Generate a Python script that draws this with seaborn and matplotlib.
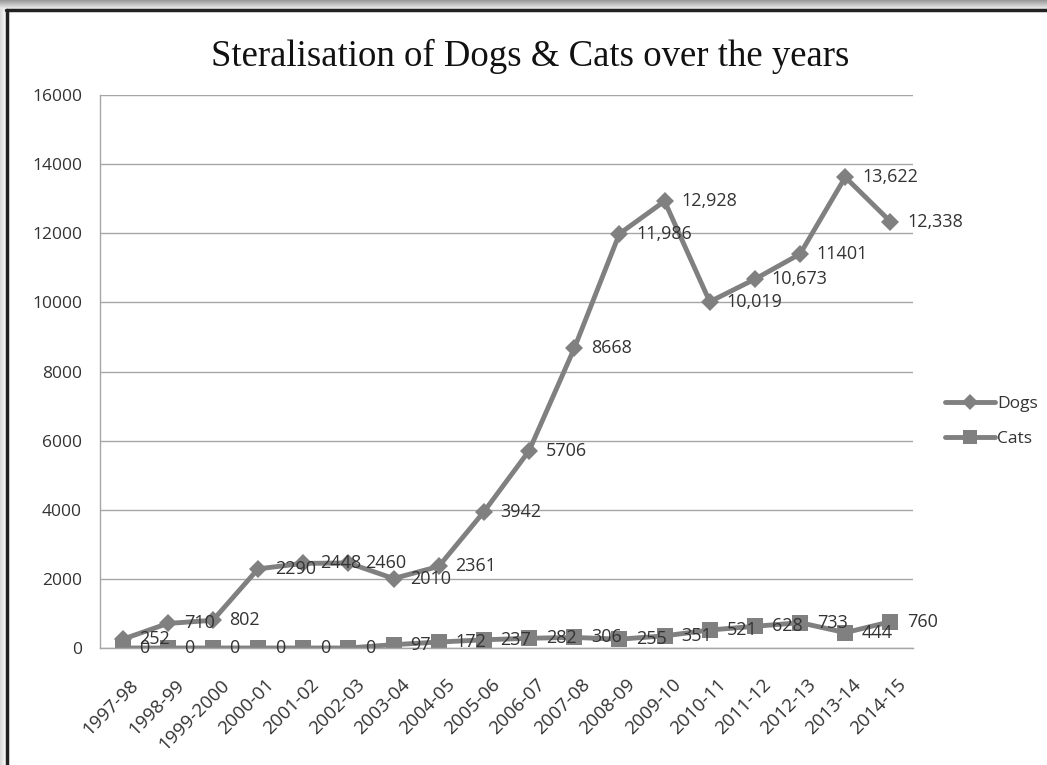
import numpy as np
import matplotlib
matplotlib.use("Agg")
import matplotlib.pyplot as plt
import matplotlib.transforms as mtransforms
import seaborn as sns
from matplotlib.patches import Rectangle
from matplotlib.lines import Line2D

# ---------------------------------------------------------------
# Data
# ---------------------------------------------------------------
years = ["1997-98", "1998-99", "1999-2000", "2000-01", "2001-02", "2002-03",
         "2003-04", "2004-05", "2005-06", "2006-07", "2007-08", "2008-09",
         "2009-10", "2010-11", "2011-12", "2012-13", "2013-14", "2014-15"]
dogs = [252, 710, 802, 2290, 2448, 2460, 2010, 2361, 3942, 5706, 8668, 11986,
        12928, 10019, 10673, 11401, 13622, 12338]
cats = [0, 0, 0, 0, 0, 0, 97, 172, 237, 282, 306, 255, 351, 521, 628, 733, 444, 760]
dog_labels = ["252", "710", "802", "2290", "2448", "2460", "2010", "2361", "3942",
              "5706", "8668", "11,986", "12,928", "10,019", "10,673", "11401",
              "13,622", "12,338"]
cat_labels = [str(v) for v in cats]

# ---------------------------------------------------------------
# Plot
# ---------------------------------------------------------------
sns.set_style("white")
plt.rcParams['font.family'] = ['Open Sans', 'DejaVu Sans']

W, H = 1047, 765
fig = plt.figure(figsize=(W / 100, H / 100), dpi=100)
ax = fig.add_axes([100 / W, 1 - 648 / H, 813 / W, 553 / H])

grey = "#808080"
txt = "#333333"
x = np.arange(len(years))
sns.lineplot(x=x, y=dogs, ax=ax, color=grey, linewidth=3.5, marker="D",
             markersize=9, markeredgewidth=0, legend=False)
sns.lineplot(x=x, y=cats, ax=ax, color=grey, linewidth=3.5, marker="s",
             markersize=12, markeredgewidth=0, legend=False)

# data labels, to the right of each point
for xi, v, s in zip(x, dogs, dog_labels):
    ax.annotate(s, (xi, v), xytext=(12, 0), textcoords="offset points",
                ha="left", va="center", fontsize=13, color=txt)
for xi, v, s in zip(x, cats, cat_labels):
    ax.annotate(s, (xi, v), xytext=(12, 0), textcoords="offset points",
                ha="left", va="center", fontsize=13, color=txt)

ax.set_xlim(-0.5, len(years) - 0.5)
ax.set_ylim(0, 16000)
ax.set_yticks(range(0, 16001, 2000))
ax.set_xticks(x)
ax.set_xticklabels(years, rotation=45, ha="right", rotation_mode="anchor")
ax.tick_params(axis="x", labelsize=13.5, length=0, pad=20, colors=txt)
ax.tick_params(axis="y", labelsize=12.5, length=0, pad=13, colors=txt)
shift = mtransforms.ScaledTranslation(7 / 100, 0, fig.dpi_scale_trans)
for lbl in ax.get_xticklabels():
    lbl.set_transform(lbl.get_transform() + shift)

ax.grid(axis="y", color="#a6a6a6", linewidth=1)
ax.set_axisbelow(True)
for side in ["top", "right"]:
    ax.spines[side].set_visible(False)
for side in ["left", "bottom"]:
    ax.spines[side].set_color("#a6a6a6")
    ax.spines[side].set_linewidth(1)

handles = [Line2D([], [], color=grey, linewidth=3.5, marker="D", markersize=8, markeredgewidth=0),
           Line2D([], [], color=grey, linewidth=3.5, marker="s", markersize=10, markeredgewidth=0)]
ax.legend(handles, ["Dogs", "Cats"], loc="center left", bbox_to_anchor=(1.02, 0.41),
          frameon=False, fontsize=12.5, handlelength=2.9, handletextpad=0.1,
          labelspacing=1.1, labelcolor=txt)

fig.text(530 / W, 1 - 56 / H, "Steralisation of Dogs & Cats over the years",
         ha="center", va="center", fontsize=26.5, family="Liberation Serif", color="#111111")

# frame with a soft shadow at top and left
for i in range(9):
    shade = 0.6 + 0.04 * i
    fig.patches.append(Rectangle((0, 1 - (i + 1) / H), 1, 1 / H, transform=fig.transFigure,
                                 color=(shade, shade, shade), zorder=0))
for i in range(6):
    shade = 0.85 + 0.025 * i
    fig.patches.append(Rectangle((i / W, 0), 1 / W, 1 - 9 / H, transform=fig.transFigure,
                                 color=(shade, shade, shade), zorder=0))
fig.add_artist(Line2D([7 / W, 7 / W], [0, 1 - 10 / H], transform=fig.transFigure,
                      color="#222222", linewidth=2.5))
fig.add_artist(Line2D([6 / W, 1], [1 - 10 / H, 1 - 10 / H], transform=fig.transFigure,
                      color="#222222", linewidth=2.5))

fig.savefig("out.png", dpi=100)
